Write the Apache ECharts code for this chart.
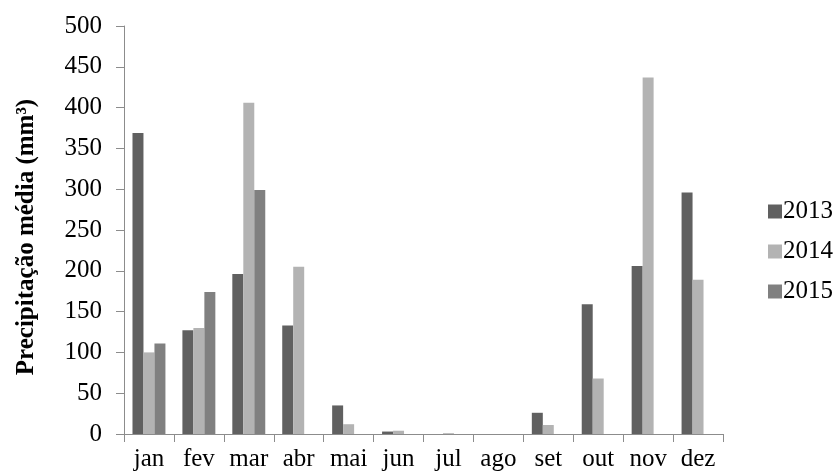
<!DOCTYPE html>
<html>
<head>
<meta charset="utf-8">
<script src="https://cdn.jsdelivr.net/npm/echarts@6/dist/echarts.min.js"></script>
<style>html,body{margin:0;padding:0;background:#fff;}#c{width:837px;height:475px;}</style>
</head>
<body>
<div id="c"></div>
<script>
const months = ['jan','fev','mar','abr','mai','jun','jul','ago','set','out','nov','dez'];
const yearNames = ['2013','2014','2015'];
const values2013 = [369, 127, 196, 133, 35, 3, 0, 0, 26, 159, 206, 296];
const values2014 = [100, 130, 406, 205, 12, 4, 1, 0, 11, 68, 437, 189];
const values2015 = [111, 174, 299, null, null, null, null, null, null, null, null, null];
const yTicks = [0, 50, 100, 150, 200, 250, 300, 350, 400, 450, 500];
const colors = ['#606060', '#b3b3b3', '#808080'];

const font = 'Liberation Serif';
const axisColor = '#8c8c8c';
const chart = echarts.init(document.getElementById('c'), null, {renderer: 'canvas'});
const seriesData = [values2013, values2014, values2015];
chart.setOption({
  animation: false,
  backgroundColor: '#fff',
  grid: {left: 124, right: 114, top: 26, bottom: 41},
  legend: {
    orient: 'vertical', left: 763, top: 194,
    itemWidth: 14, itemHeight: 14, itemGap: 15,
    icon: 'rect',
    textStyle: {fontFamily: font, fontSize: 25, color: '#000', padding: [0,0,0,-4]},
    data: yearNames
  },
  xAxis: {
    type: 'category', data: months,
    axisLine: {lineStyle: {color: axisColor, width: 1}},
    axisTick: {show: true, length: 8, lineStyle: {color: axisColor}},
    axisLabel: {fontFamily: font, fontSize: 25, color: '#000', margin: 13, interval: 0}
  },
  yAxis: {
    type: 'value', min: yTicks[0], max: yTicks[yTicks.length-1], interval: 50,
    name: 'Precipitação média (mm³)', nameLocation: 'middle', nameGap: 85, nameRotate: 90,
    nameTextStyle: {fontFamily: font, fontSize: 25, fontWeight: 'bold', color: '#000', padding: [0, 14, 0, 0]},
    axisLine: {show: true, lineStyle: {color: axisColor, width: 1}},
    axisTick: {show: true, length: 8, lineStyle: {color: axisColor}},
    splitLine: {show: false},
    axisLabel: {fontFamily: font, fontSize: 25, color: '#000', margin: 22}
  },
  series: yearNames.map((n, i) => ({
    name: n, type: 'bar', data: seriesData[i],
    barGap: '0%', barCategoryGap: '34%',
    itemStyle: {color: colors[i]}
  }))
});
</script>
</body>
</html>
